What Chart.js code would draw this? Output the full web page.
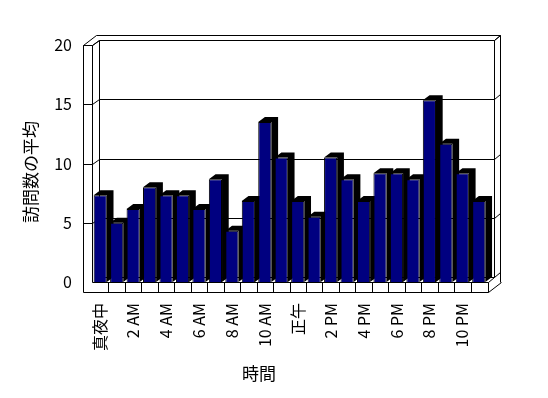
<!DOCTYPE html>
<html>
<head>
<meta charset="utf-8">
<script src="https://cdn.jsdelivr.net/npm/chart.js@4/dist/chart.umd.min.js"></script>
<style>
  body { margin: 0; background: #fff; }
</style>
</head>
<body>
<canvas id="visitChart" width="548" height="398"></canvas>
<script>
// hours of the day
const hours = ['真夜中', '1 AM', '2 AM', '3 AM', '4 AM', '5 AM', '6 AM', '7 AM', '8 AM', '9 AM', '10 AM', '11 AM',
  '正午', '1 PM', '2 PM', '3 PM', '4 PM', '5 PM', '6 PM', '7 PM', '8 PM', '9 PM', '10 PM', '11 PM'];
// average number of visits
const avgVisits = [7.33, 5.0, 6.17, 8.0, 7.33, 7.33, 6.17, 8.67, 4.33, 6.83, 13.5, 10.5,
  6.83, 5.5, 10.5, 8.67, 6.83, 9.17, 9.17, 8.67, 15.33, 11.67, 9.17, 6.83];
const yTicks = [0, 5, 10, 15, 20];

const xTitle = '時間';
const yTitle = '訪問数の平均';

const FONT = '"Noto Sans CJK JP", "Liberation Sans", sans-serif';
const DX = 6.7, DY = -5;   // depth step
const WALL = 9, FLOOR = 10;

function px(v) { return Math.round(v) + 0.5; }

// walls, floor and the black depth of each bar
const box3d = {
  id: 'box3d',
  beforeDatasetsDraw(chart) {
    const { ctx, chartArea: a, scales: { x, y } } = chart;
    const L = a.left, R = a.right, T = a.top, B = a.bottom;
    ctx.save();
    ctx.strokeStyle = '#000';
    ctx.lineWidth = 1;

    const line = pts => {
      ctx.beginPath();
      pts.forEach((p, i) => i ? ctx.lineTo(px(p[0]), px(p[1])) : ctx.moveTo(px(p[0]), px(p[1])));
      ctx.stroke();
    };

    // back wall inner face
    line([[L + DX, T + DY], [R + DX, T + DY], [R + DX, B + DY], [L + DX, B + DY], [L + DX, T + DY]]);
    // back wall outer edges
    line([[L - WALL + 2 * DX, T + 2 * DY], [R + 2 * DX, T + 2 * DY], [R + 2 * DX, B + FLOOR + 2 * DY]]);
    line([[R + DX, T + DY], [R + 2 * DX, T + 2 * DY]]);

    // grid lines
    yTicks.forEach(v => {
      if (v === 0) return;
      const yy = y.getPixelForValue(v);
      line([[L - WALL, yy], [L, yy], [L + DX, yy + DY], [R + DX, yy + DY], [R + 2 * DX, yy + 2 * DY]]);
    });
    line([[R + DX, B + DY], [R + 2 * DX, B + 2 * DY]]);

    // left wall
    line([[L - WALL, T], [L, T], [L, B]]);
    line([[L - WALL, T], [L - WALL, B + FLOOR]]);
    line([[L - WALL, T], [L - WALL + 2 * DX, T + 2 * DY]]);
    line([[L, T], [L + DX, T + DY]]);

    // floor front face
    const FR = R + 1;
    line([[L, B], [FR, B], [FR, B + FLOOR], [L - WALL, B + FLOOR]]);
    line([[FR, B], [R + DX, B + DY]]);
    line([[FR, B + FLOOR], [FR + 2 * DX, B + FLOOR + 2 * DY]]);
    for (let i = 1; i < hours.length; i++) {
      const xb = (x.getPixelForValue(i - 1) + x.getPixelForValue(i)) / 2;
      line([[xb, B], [xb, B + FLOOR]]);
    }

    // bar depth
    ctx.fillStyle = '#000';
    chart.getDatasetMeta(0).data.forEach(bar => {
      const { x: cx, y: top, base, width } = bar.getProps(['x', 'y', 'base', 'width'], true);
      const l = cx - width / 2, r = cx + width / 2;
      ctx.beginPath();
      ctx.moveTo(l, top);
      ctx.lineTo(l + DX, top + DY);
      ctx.lineTo(r + DX, top + DY);
      ctx.lineTo(r + DX, base + DY);
      ctx.lineTo(r, base);
      ctx.lineTo(r, top);
      ctx.closePath();
      ctx.fill();
    });
    ctx.restore();
  },
  afterDraw(chart) {
    const { ctx } = chart;
    ctx.save();
    ctx.fillStyle = '#000';
    ctx.font = '17px ' + FONT;
    ctx.textAlign = 'center';
    ctx.textBaseline = 'middle';
    ctx.fillText(xTitle, 259, 374);
    ctx.translate(31, 172);
    ctx.rotate(-Math.PI / 2);
    ctx.fillText(yTitle, 0, 0);
    ctx.restore();
  }
};

const visitCtx = document.getElementById('visitChart').getContext('2d');
new Chart(visitCtx, {
  type: 'bar',
  data: {
    labels: hours,
    datasets: [{
      label: yTitle,
      data: avgVisits,
      backgroundColor: '#000080',
      borderColor: '#000',
      borderWidth: 1,
      barPercentage: 0.8,
      categoryPercentage: 1
    }]
  },
  options: {
    responsive: false,
    animation: false,
    layout: { padding: { left: 0, top: 45, right: 61, bottom: 0 } },
    plugins: {
      legend: { display: false },
      tooltip: { enabled: false }
    },
    scales: {
      x: {
        grid: { display: false, drawTicks: false },
        border: { display: false },
        ticks: {
          autoSkip: false,
          minRotation: 90,
          maxRotation: 90,
          padding: 21,
          color: '#000',
          font: { family: FONT, size: 16 },
          callback: (v, i) => i % 2 === 0 ? hours[i] : ''
        },
        afterFit: s => { s.height = 116; }
      },
      y: {
        min: 0,
        max: 20,
        grid: { display: false, drawTicks: false },
        border: { display: false },
        ticks: {
          stepSize: 5,
          padding: 20,
          color: '#000',
          font: { family: FONT, size: 16 }
        },
        afterFit: s => { s.width = 92; }
      }
    }
  },
  plugins: [box3d]
});
</script>
</body>
</html>
